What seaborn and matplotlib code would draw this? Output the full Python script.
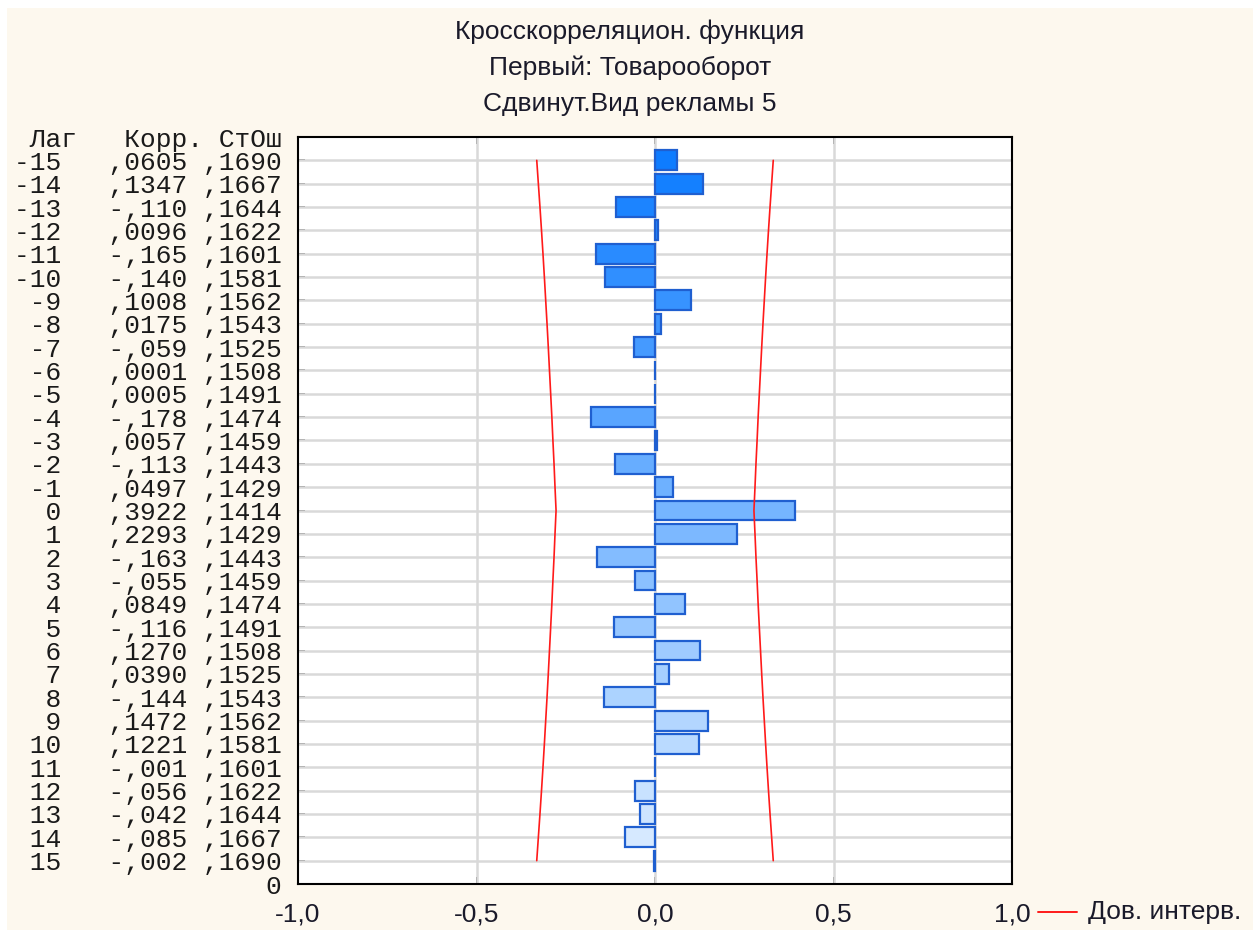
import matplotlib
matplotlib.use("Agg")
import matplotlib.pyplot as plt
import matplotlib.patches as mpatches
from matplotlib.lines import Line2D
import seaborn as sns
import numpy as np
import pandas as pd

# ---- data ----
lags = list(range(-15, 16))
corr = [0.0605, 0.1347, -0.110, 0.0096, -0.165, -0.140, 0.1008, 0.0175, -0.059, 0.0001,
        0.0005, -0.178, 0.0057, -0.113, 0.0497, 0.3922, 0.2293, -0.163, -0.055, 0.0849,
        -0.116, 0.1270, 0.0390, -0.144, 0.1472, 0.1221, -0.001, -0.056, -0.042, -0.085,
        -0.002]
stderr = [0.1690, 0.1667, 0.1644, 0.1622, 0.1601, 0.1581, 0.1562, 0.1543, 0.1525, 0.1508,
          0.1491, 0.1474, 0.1459, 0.1443, 0.1429, 0.1414, 0.1429, 0.1443, 0.1459, 0.1474,
          0.1491, 0.1508, 0.1525, 0.1543, 0.1562, 0.1581, 0.1601, 0.1622, 0.1644, 0.1667,
          0.1690]
title_lines = ["Кросскорреляцион. функция", "Первый: Товарооборот", "Сдвинут.Вид рекламы 5"]
header = " Лаг   Корр. СтОш"
x_ticks = [-1.0, -0.5, 0.0, 0.5, 1.0]
x_ticklabels = ["-1,0", "-0,5", "0,0", "0,5", "1,0"]
legend_label = "Дов. интерв."
z = 1.96


def fmt_corr(v):
    if v >= 0:
        return f"{v:.4f}"[1:].replace(".", ",")
    return "-" + f"{abs(v):.3f}"[1:].replace(".", ",")


def fmt_se(v):
    return f"{v:.4f}"[1:].replace(".", ",")


row_labels = [f"{l:>3}   {fmt_corr(c):>5} {fmt_se(s)}" for l, c, s in zip(lags, corr, stderr)]

df = pd.DataFrame({"lag": lags, "corr": corr, "se": stderr})

# ---- figure ----
sns.set_style("white")
W, H = 1260, 934
fig = plt.figure(figsize=(W / 100, H / 100), dpi=100, facecolor="white")
bg = mpatches.Rectangle((7 / W, 1 - 930 / H), (1253 - 7) / W, (930 - 8) / H,
                        transform=fig.transFigure, facecolor="#fdf8ee", edgecolor="none", zorder=-10)
fig.patches.append(bg)

ax = fig.add_axes([298 / W, 1 - 884 / H, (1012 - 298) / W, (884 - 137) / H])
ax.set_facecolor("white")

pal = sns.blend_palette(["#0e7cff", "#dcedff"], n_colors=len(lags))
sns.barplot(data=df, x="corr", y="lag", hue="lag", palette=pal, legend=False,
            order=lags, hue_order=lags, orient="h", width=0.85, saturation=1,
            edgecolor="#1f5fd0", linewidth=1.6, ax=ax, zorder=3)

pos = np.arange(len(lags))
se_arr = np.array(stderr)
ax.plot(z * se_arr, pos, color="#ff1a1a", lw=1.2, zorder=4)
ax.plot(-z * se_arr, pos, color="#ff1a1a", lw=1.2, zorder=4)

ax.set_xlim(-1, 1)
ax.set_ylim(len(lags), -1)

# grid
for p in pos:
    ax.axhline(p, color="#d9d9d9", lw=1.8, zorder=1)
for xv in [-0.5, 0.0, 0.5]:
    ax.axvline(xv, color="#d9d9d9", lw=1.8, zorder=1)

ax.set_xticks(x_ticks)
ax.set_xticklabels(x_ticklabels)
ax.set_yticks([-1] + list(pos) + [len(lags)])
ax.set_yticklabels([header] + row_labels + ["0"])
for t in ax.get_yticklabels():
    t.set_fontfamily("Liberation Mono")
    t.set_fontsize(18.9)
    t.set_color("#1a1a1a")
for t in ax.get_xticklabels():
    t.set_fontfamily("Liberation Sans")
    t.set_fontsize(19)
    t.set_color("#1a1a2a")
ax.tick_params(axis="y", direction="in", length=5, width=1.2, pad=12, left=True, right=False)
ax.tick_params(axis="x", direction="in", length=5, width=1.2, pad=13, bottom=True, top=True)
ax.set_xlabel("")
ax.set_ylabel("")
for s in ax.spines.values():
    s.set_visible(True)
    s.set_color("black")
    s.set_linewidth(1.5)

# titles
for i, line in enumerate(title_lines):
    fig.text(630 / W, 1 - (32 + 36 * i) / H, line, ha="center", va="center",
             fontfamily="Liberation Sans", fontsize=19, color="#1a1a2a")

# legend
fig.add_artist(Line2D([1038 / W, 1077 / W], [1 - 912 / H, 1 - 912 / H],
                      transform=fig.transFigure, color="#ff1a1a", lw=1.4))
fig.text(1088 / W, 1 - 912 / H, legend_label, ha="left", va="center",
         fontfamily="Liberation Sans", fontsize=19, color="#1a1a2a")

fig.savefig("out.png", dpi=100, facecolor=fig.get_facecolor())
